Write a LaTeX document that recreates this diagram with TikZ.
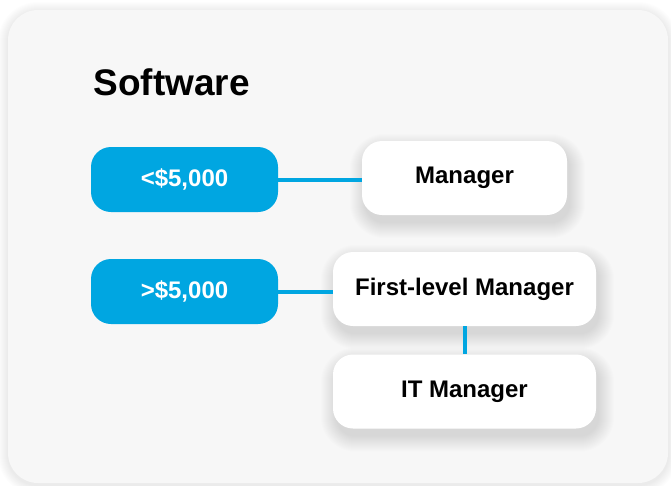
\documentclass[tikz,border=0pt]{standalone}
\usepackage{fontspec}
\setmainfont{Liberation Sans}
\definecolor{panelgray}{HTML}{F7F7F7}
\definecolor{costblue}{HTML}{00A6E1}
\pgfdeclarelayer{back}
\pgfdeclarelayer{shade}
\pgfsetlayers{back,shade,main}

\begin{document}
\begin{tikzpicture}[x=1pt,y=-1pt,
    cost/.style={fill=costblue,rounded corners=20pt,inner sep=0pt,
      minimum width=187pt,minimum height=65pt,text=white,
      font=\bfseries\fontsize{24}{28}\selectfont},
    role/.style={fill=white,rounded corners=20pt,inner sep=0pt,
      minimum height=74pt,font=\bfseries\fontsize{24}{28}\selectfont},
    haze/.style={fill=black,opacity=0.011},
    link/.style={draw=costblue,line width=4pt}]
   \useasboundingbox (0,0) rectangle (671,485);
   \node[anchor=base west,font=\bfseries\fontsize{37}{40}\selectfont]
     (title) at (90,95) {Software};
   % amounts
   \node[cost] (low)  at (184.5,179.5) {<\$5,000};
   \node[cost] (high) at (184.5,291.5) {>\$5,000};
   % approvers
   \node[role,minimum width=205pt] (mgr)   at (464.5,178)   {Manager};
   \node[role,minimum width=263pt] (first) at (464.5,289)   {First-level Manager};
   \node[role,minimum width=263pt] (it)    at (464.5,391.5) {IT Manager};
   \begin{pgfonlayer}{back}
     \fill[white] (0,0) rectangle (671,485);
     \foreach \k in {1,...,10}
       \fill[haze,opacity=0.006,rounded corners=30pt+\k pt]
         (8-\k,12-\k) rectangle (668+\k,485+\k);
     \fill[panelgray,rounded corners=30pt] (8,10) rectangle (668,483);
   \end{pgfonlayer}
   \begin{pgfonlayer}{shade}
     \foreach \n in {mgr,first,it}
       \foreach \k in {0,...,15}
         \fill[haze,opacity=0.007,rounded corners=20pt+\k pt]
           ([shift={(3-\k,8+\k)}]\n.south west) rectangle ([shift={(3+\k,8-\k)}]\n.north east);
   \end{pgfonlayer}
   \draw[link] (low.east) -- (low.east -| mgr.west);
   \draw[link] (high.east) -- (high.east -| first.west);
   \draw[link] (first.south) -- (it.north);
\end{tikzpicture}
\end{document}
